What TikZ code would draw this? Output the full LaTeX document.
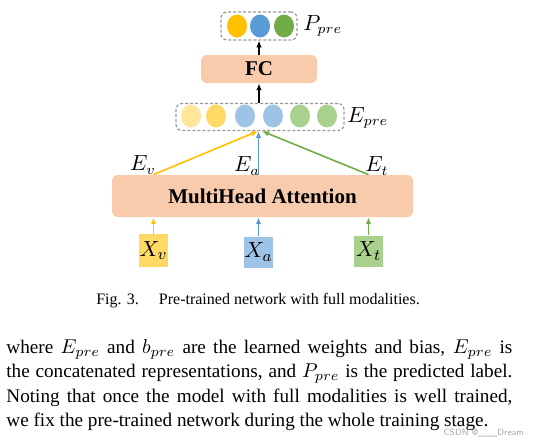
\documentclass[tikz,border=0pt]{standalone}
\usepackage{fontspec}
\setmainfont{Liberation Serif}
\usetikzlibrary{arrows.meta,shapes.geometric,calc}
\definecolor{peach}{HTML}{F8CBAD}
\definecolor{gold}{HTML}{FFC000}
\definecolor{lightgold}{HTML}{FFD966}
\definecolor{palegold}{HTML}{FFE699}
\definecolor{sky}{HTML}{5B9BD5}
\definecolor{lightsky}{HTML}{9DC3E6}
\definecolor{leaf}{HTML}{70AD47}
\definecolor{lightleaf}{HTML}{A9D18E}
\tikzset{
  layerbox/.style={fill=peach, rounded corners=3pt, font=\fontsize{10.5}{12}\selectfont\bfseries},
  inbox/.style={minimum width=14.5pt, minimum height=15.5pt, inner sep=0pt, font=\fontsize{11}{12}\selectfont},
  embdot/.style={ellipse, minimum width=10pt, minimum height=11.5pt, inner sep=0pt},
  groupbox/.style={draw=gray!80, dash pattern=on 1.5pt off 1pt, rounded corners=3pt, line width=0.6pt, inner sep=0pt},
  flow/.style={-{Latex[length=3.4pt,width=2.8pt]}, line width=0.8pt},
  lbl/.style={font=\fontsize{10.5}{12}\selectfont, inner sep=0pt}
}
\begin{document}
\begin{tikzpicture}[x=0.5pt, y=-0.5pt]
  \useasboundingbox (0,0) rectangle (533,445);
  % output probabilities
  \node[groupbox, minimum width=38pt, minimum height=14pt] (ppre) at (259,26) {};
  \node[embdot, fill=gold] (p1) at (237,26) {};
  \node[embdot, fill=sky] (p2) at (260,26) {};
  \node[embdot, fill=leaf] (p3) at (284,26) {};
  \node[lbl, anchor=west] (plab) at (303,26) {$P_{pre}$};
  % fully connected layer
  \node[layerbox, minimum width=58pt, minimum height=14pt] (fc) at (259,69) {FC};
  % concatenated representations
  \node[groupbox, minimum width=84pt, minimum height=13.5pt] (epre) at (260,117) {};
  \node[embdot, fill=palegold] (e1) at (191,116) {};
  \node[embdot, fill=lightgold] (e2) at (216,116) {};
  \node[embdot, fill=lightsky] (e3) at (245,116) {};
  \node[embdot, fill=lightsky] (e4) at (273,116) {};
  \node[embdot, fill=lightleaf] (e5) at (300,116) {};
  \node[embdot, fill=lightleaf] (e6) at (327,116) {};
  \node[lbl, anchor=west] (elab) at (347,118) {$E_{pre}$};
  % attention block
  \node[layerbox, minimum width=150.5pt, minimum height=21pt] (mha) at (262.5,196) {MultiHead Attention};
  % inputs
  \node[inbox, fill=lightgold, minimum height=16.5pt] (xv) at (153.5,250.5) {$X_v$};
  \node[inbox, fill=lightsky] (xa) at (258.5,252) {$X_a$};
  \node[inbox, fill=lightleaf] (xt) at (368.5,251) {$X_t$};
  \draw[flow, gold] (xv.north) -- (mha.south -| xv);
  \draw[flow, sky] (xa.north) -- (mha.south -| xa);
  \draw[flow, leaf] (xt.north) -- (mha.south -| xt);
  \draw[flow, gold] (mha.north -| xv) -- ($(epre.south)+(-1pt,0)$);
  \draw[flow, sky] (mha.north -| xa) -- (epre.south -| xa);
  \draw[flow, leaf] (mha.north -| xt) -- ($(epre.south)+(1pt,0)$);
  \node[lbl] (ev) at (143,165) {$E_v$};
  \node[lbl] (ea) at (247,166) {$E_a$};
  \node[lbl] (et) at (377,166) {$E_t$};
  \draw[flow, black] (epre.north -| fc) -- (fc.south);
  \draw[flow, black] (fc.north) -- (ppre.south -| fc);
  % caption and text
  \node[anchor=base, font=\fontsize{8}{9.5}\selectfont] (cap) at (258,304)
    {Fig. 3.\hspace{10pt}Pre-trained network with full modalities.};
  \node[anchor=north west, text width=253pt, align=justify, inner sep=0pt,
        font=\fontsize{9.6}{12.2}\selectfont] (para) at (6,339)
    {where $E_{pre}$ and $b_{pre}$ are the learned weights and bias, $E_{pre}$ is\linebreak
     the concatenated representations, and $P_{pre}$ is the predicted label.\linebreak
     Noting that once the model with full modalities is well trained,\linebreak
     we fix the pre-trained network during the whole training stage.};
  \node[anchor=east, text=gray!70, font=\sffamily\fontsize{4.5}{5}\selectfont] (mark) at (531,433) {CSDN @\_\_\_Dream};
\end{tikzpicture}
\end{document}
